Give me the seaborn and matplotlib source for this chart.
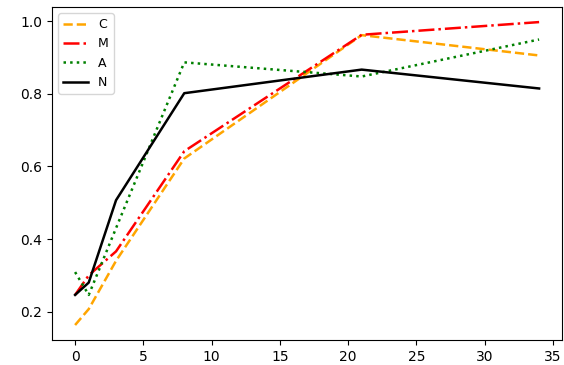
import numpy as np
import pandas as pd
import matplotlib
matplotlib.use("Agg")
import matplotlib.pyplot as plt
import seaborn as sns

x_values = [0, 1, 3, 8, 21, 34]

c_values = [0.163, 0.207, 0.340, 0.622, 0.962, 0.906]
m_values = [0.246, 0.300, 0.366, 0.642, 0.963, 0.998]
a_values = [0.309, 0.246, 0.430, 0.887, 0.848, 0.950]
n_values = [0.246, 0.280, 0.507, 0.802, 0.867, 0.815]

series_names = ["C", "M", "A", "N"]
series_colors = {"C": "orange", "M": "red", "A": "green", "N": "black"}
series_dashes = {
    "C": (3.7, 1.6),
    "M": (6.4, 1.6, 1.0, 1.6),
    "A": (1.0, 1.65),
    "N": "",
}


def build_frame() -> pd.DataFrame:
    rows = []
    for name, values in zip(series_names, [c_values, m_values, a_values, n_values]):
        for x, y in zip(x_values, values):
            rows.append({"x": x, "value": y, "series": name})
    return pd.DataFrame(rows)


def main() -> None:
    df = build_frame()

    fig, ax = plt.subplots(figsize=(5.64, 3.65), dpi=100)
    fig.subplots_adjust(left=0.092, right=0.997, bottom=0.068, top=0.981)

    sns.lineplot(
        data=df,
        x="x",
        y="value",
        hue="series",
        style="series",
        hue_order=series_names,
        style_order=series_names,
        palette=series_colors,
        dashes=series_dashes,
        linewidth=1.8,
        ax=ax,
    )

    ax.set_xlabel("")
    ax.set_ylabel("")
    ax.set_xticks(range(0, 36, 5))
    ax.set_yticks([0.2, 0.4, 0.6, 0.8, 1.0])
    ax.tick_params(labelsize=10)

    leg = ax.legend(loc="upper left", fontsize=9)
    leg.set_title(None)

    fig.savefig("out.png", dpi=100)


if __name__ == "__main__":
    main()
